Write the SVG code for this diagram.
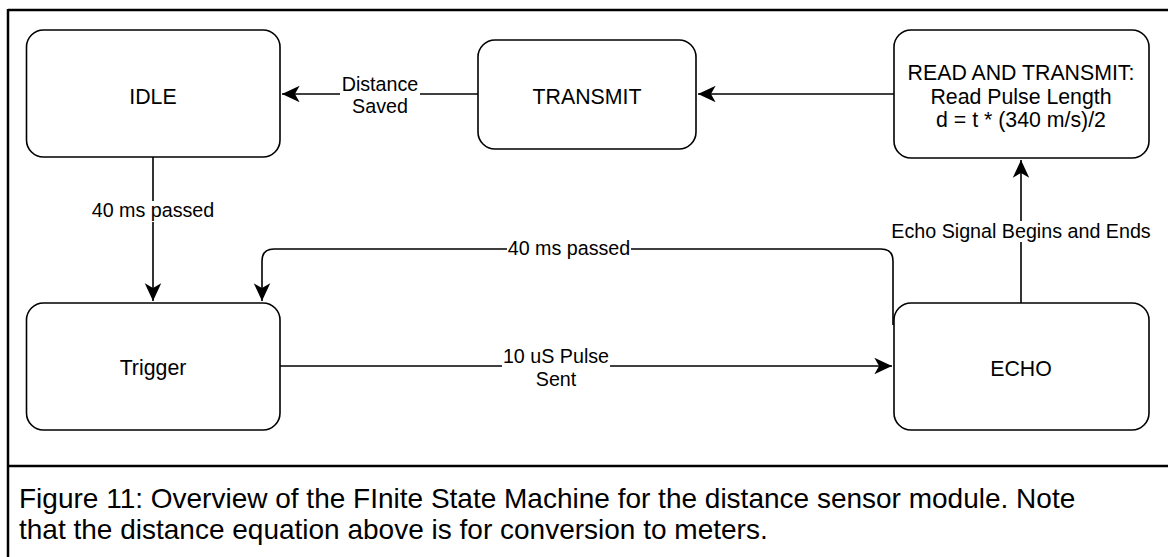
<svg xmlns="http://www.w3.org/2000/svg" width="1168" height="557" viewBox="0 0 1168 557">
<defs>
<style>
.node{fill:#fff;stroke:#000;stroke-width:1.6}
.nt{font-family:"Liberation Sans",Arial,sans-serif;font-size:21.3px;fill:#000;text-anchor:middle}
.et{font-family:"Liberation Sans",Arial,sans-serif;font-size:19.7px;fill:#000;text-anchor:middle}
.edge{fill:none;stroke:#000;stroke-width:1.6}
.cap{font-family:"Liberation Sans",Arial,sans-serif;font-size:28px;fill:#000}
.frame{fill:none;stroke:#000;stroke-width:2.5}
</style>
<marker id="arr" markerUnits="userSpaceOnUse" markerWidth="20" markerHeight="20" viewBox="-16 -8 17 16" refX="0" refY="0" orient="auto">
<path d="M0,0 L-15,-7 L-11,0 L-15,7 Z" fill="#000"/>
</marker>
</defs>
<rect width="1168" height="557" fill="#fff"/>
<g id="frame">
<line class="frame" x1="8" y1="10" x2="1170" y2="10"/>
<line class="frame" x1="8" y1="9" x2="8" y2="560"/>
<line class="frame" x1="8" y1="466" x2="1170" y2="466"/>
</g>
<g id="connectors">
<path class="edge" d="M478,94 H282" marker-end="url(#arr)"/>
<rect x="340" y="72" width="80" height="48" fill="#fff"/>
<text class="et" x="380" y="90.5">Distance</text>
<text class="et" x="380" y="113.3">Saved</text>
<path class="edge" d="M894,94 H698" marker-end="url(#arr)"/>
<path class="edge" d="M153,157 V301" marker-end="url(#arr)"/>
<rect x="90" y="201" width="126" height="21" fill="#fff"/>
<text class="et" x="153" y="217.3">40 ms passed</text>
<path class="edge" d="M1021,303 V160" marker-end="url(#arr)"/>
<rect x="890" y="221" width="262" height="21" fill="#fff"/>
<text class="et" x="1021" y="237.7">Echo Signal Begins and Ends</text>
<path class="edge" d="M280,366 H892" marker-end="url(#arr)"/>
<rect x="502" y="346" width="108" height="46" fill="#fff"/>
<text class="et" x="556" y="362.7">10 uS Pulse</text>
<text class="et" x="556" y="386">Sent</text>
<path class="edge" d="M893,325 V261 Q893,249 881,249 H274 Q262,249 262,261 V301" marker-end="url(#arr)"/>
<rect x="507" y="238" width="124" height="21" fill="#fff"/>
<text class="et" x="569" y="255">40 ms passed</text>
</g>
<g id="idle">
<rect class="node" x="26.5" y="30" width="253.5" height="127" rx="17"/>
<text class="nt" x="153" y="104">IDLE</text>
</g>
<g id="transmit">
<rect class="node" x="478" y="40" width="218" height="109" rx="17"/>
<text class="nt" x="587" y="104">TRANSMIT</text>
</g>
<g id="read-and-transmit">
<rect class="node" x="894" y="30" width="255" height="128" rx="17"/>
<text class="nt" x="1021" y="80">READ AND TRANSMIT:</text>
<text class="nt" x="1021" y="103.5">Read Pulse Length</text>
<text class="nt" x="1021" y="127">d = t * (340 m/s)/2</text>
</g>
<g id="trigger">
<rect class="node" x="26.5" y="303" width="253.5" height="127" rx="17"/>
<text class="nt" x="153" y="375">Trigger</text>
</g>
<g id="echo">
<rect class="node" x="894" y="303" width="255" height="127" rx="17"/>
<text class="nt" x="1021" y="375.5">ECHO</text>
</g>
<g id="caption">
<text class="cap" x="19" y="508">Figure 11: Overview of the FInite State Machine for the distance sensor module. Note</text>
<text class="cap" x="19" y="539">that the distance equation above is for conversion to meters.</text>
</g>
</svg>
